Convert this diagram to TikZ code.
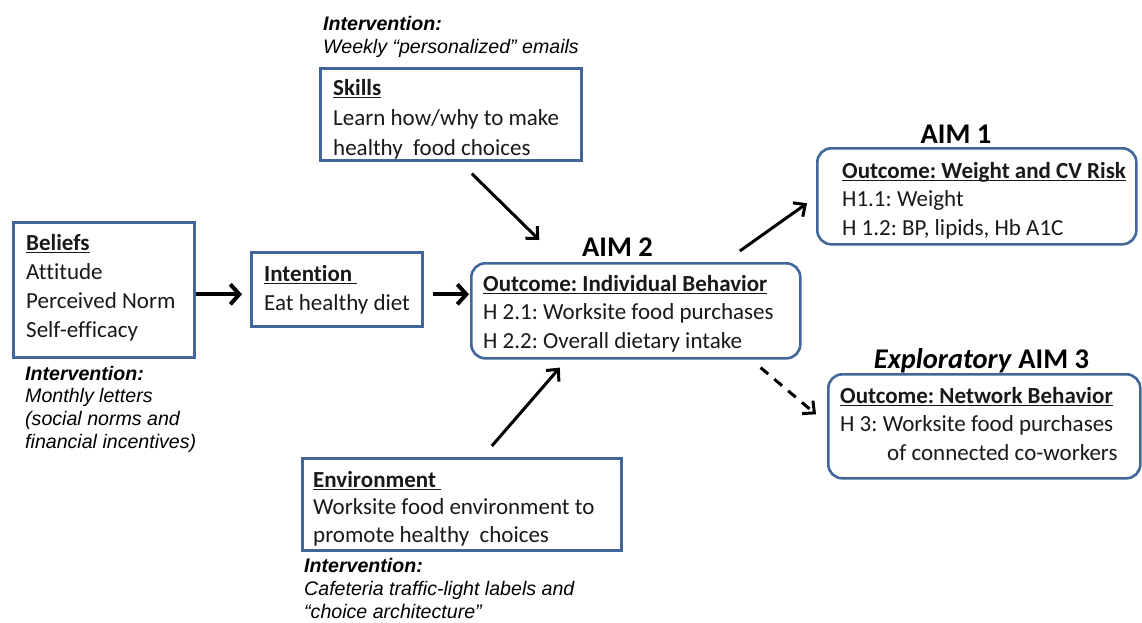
\documentclass[tikz,border=0pt]{standalone}
\usepackage{fontspec}
\setmainfont{Carlito}[Ligatures=NoCommon]
\newfontfamily\arialf{Liberation Sans}
\usetikzlibrary{arrows.meta,calc}
\definecolor{boxblue}{RGB}{65,102,154}
\definecolor{txt}{RGB}{25,25,25}
\newcommand{\ulbox}[1]{\setbox0\hbox{#1}\rlap{\rule[-3.2pt]{\wd0}{1.4pt}}\box0}
\frenchspacing
\begin{document}
\begin{tikzpicture}[x=1pt,y=-1pt,
  box/.style={draw=boxblue, line width=2.6pt, fill=white, inner sep=0pt, anchor=north west},
  rbox/.style={box, rounded corners=14pt},
  btext/.style={anchor=base west, inner sep=0pt, text=txt, font=\fontsize{23}{29}\selectfont\frenchspacing},
  head/.style={anchor=base, inner sep=0pt, text=black, font=\fontsize{28.5}{34}\selectfont\bfseries},
  itext/.style={anchor=base west, inner sep=0pt, text=black, font=\arialf\fontsize{19.6}{23}\selectfont\itshape},
  bigarr/.style={line width=4pt, -{Straight Barb[length=9pt,width=20pt]}},
  diagarr/.style={line width=3pt, -{Straight Barb[length=9pt,width=17pt]}},
  dasharr/.style={diagarr, dash pattern=on 10pt off 8pt}
]
\useasboundingbox (0,0) rectangle (1142,622);
\fill[white] (0,0) rectangle (1142,622);

% boxes
\node[box, minimum width=181pt, minimum height=135pt] (beliefs) at (12,221) {};
\node[box, minimum width=171pt, minimum height=74pt] (intention) at (250,251) {};
\node[box, minimum width=261pt, minimum height=92pt] (skills) at (319,67) {};
\node[box, minimum width=319pt, minimum height=92pt] (env) at (301,457) {};
\node[rbox, minimum width=329pt, minimum height=95pt] (aim2) at (470,262) {};
\node[rbox, minimum width=319pt, minimum height=96pt] (aim1) at (816,147) {};
\node[rbox, minimum width=312pt, minimum height=104pt] (aim3) at (827,373) {};

% box texts
\node[btext] (tbeliefs) at (26,250) {\vtop{\baselineskip=29pt
  \hbox{\ulbox{\bfseries Beliefs}}\hbox{Attitude}\hbox{Perceived Norm}\hbox{Self-efficacy}}};
\node[btext] (tintention) at (264,281) {\vtop{\baselineskip=29pt
  \hbox{\ulbox{\bfseries Intention\ }}\hbox{Eat healthy diet}}};
\node[btext] (tskills) at (333,95) {\vtop{\baselineskip=30pt
  \hbox{\ulbox{\bfseries Skills}}\hbox{Learn how/why to make}\hbox{healthy\hspace{0.45em}food choices}}};
\node[btext] (tenv) at (313,487) {\vtop{\baselineskip=27.5pt
  \hbox{\ulbox{\bfseries Environment\ }}\hbox{Worksite food environment to}\hbox{promote healthy\hspace{0.45em}choices}}};
\node[btext] (taim2) at (483,291) {\vtop{\baselineskip=28.5pt
  \hbox{\ulbox{\bfseries Outcome: Individual Behavior}}\hbox{H 2.1: Worksite food purchases}\hbox{H 2.2: Overall dietary intake}}};
\node[btext] (taim1) at (842,178) {\vtop{\baselineskip=28.5pt
  \hbox{\ulbox{\bfseries Outcome: Weight and CV Risk}}\hbox{H1.1: Weight}\hbox{H 1.2: BP, lipids, Hb A1C}}};
\node[btext] (taim3) at (840,403) {\vtop{\baselineskip=28.5pt
  \hbox{\ulbox{\bfseries Outcome: Network Behavior}}\hbox{H 3: Worksite food purchases}\hbox{\hspace*{47pt}of connected co-workers}}};

% headings
\node[head] (haim1) at (956,143) {AIM 1};
\node[head] (haim2) at (617.5,256) {AIM 2};
\node[head] (haim3) at (981.5,368) {\textit{Exploratory} AIM 3};

% interventions
\node[itext] (iskills) at (323,30) {\vtop{\baselineskip=23pt
  \hbox{\bfseries Intervention:}\hbox{Weekly “personalized” emails}}};
\node[itext] (ibeliefs) at (25,380) {\vtop{\baselineskip=22.7pt
  \hbox{\bfseries Intervention:}\hbox{Monthly letters}\hbox{(social norms and}\hbox{financial incentives)}}};
\node[itext] (ienv) at (304,572) {\vtop{\baselineskip=23pt
  \hbox{\bfseries Intervention:}\hbox{Cafeteria traffic-light labels and}\hbox{“choice architecture”}}};

% connectors
\draw[bigarr] ([shift={(0,4.5)}]beliefs.east) -- ([shift={(-8,5)}]intention.west);
\draw[bigarr] ([shift={(9,5)}]intention.east) -- ([shift={(-1,-16.5)}]aim2.west);
\draw[diagarr] ([shift={(21,12)}]skills.south) -- ([shift={(-96.5,-22)}]aim2.north);
\draw[diagarr] ([shift={(104,-11)}]aim2.north) -- ([shift={(-9,7)}]aim1.west);
\draw[diagarr] ([shift={(30,-11)}]env.north) -- ([shift={(-76,8)}]aim2.south);
\draw[dasharr] ([shift={(-41,8)}]aim2.south east) -- ([shift={(-11,-12)}]aim3.west);
\end{tikzpicture}
\end{document}
